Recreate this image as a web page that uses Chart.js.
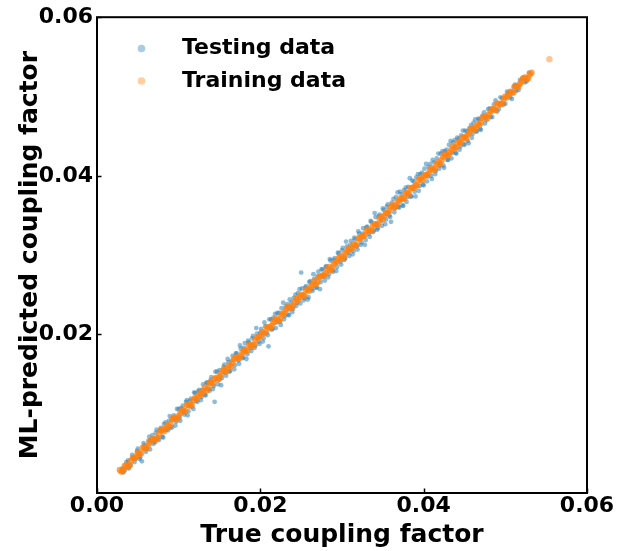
<!DOCTYPE html>
<html>
<head>
<meta charset="utf-8">
<script src="https://cdn.jsdelivr.net/npm/chart.js@4/dist/chart.umd.min.js"></script>
<style>
html,body{margin:0;padding:0;background:#fff;}
#wrap{width:617px;height:551px;position:relative;}
</style>
</head>
<body>
<div id="wrap"><canvas id="c"></canvas></div>
<script>
// ---- data ----
const xTickValues = [0.00, 0.02, 0.04, 0.06];
const yTickValues = [0.02, 0.04, 0.06];
const seriesNames = ["Testing data", "Training data"];

const testX = [
0.0031,0.0034,0.0038,0.0041,0.0044,0.0047,0.0050,0.0053,0.0055,0.0058,
0.0061,0.0064,0.0066,0.0069,0.0072,0.0074,0.0077,0.0080,0.0082,0.0085,
0.0088,0.0090,0.0093,0.0096,0.0098,0.0101,0.0103,0.0106,0.0109,0.0111,
0.0114,0.0116,0.0119,0.0121,0.0124,0.0127,0.0129,0.0132,0.0134,0.0137,
0.0139,0.0142,0.0144,0.0147,0.0150,0.0152,0.0155,0.0157,0.0160,0.0162,
0.0165,0.0168,0.0170,0.0173,0.0175,0.0178,0.0180,0.0183,0.0185,0.0188,
0.0190,0.0193,0.0195,0.0198,0.0200,0.0203,0.0205,0.0208,0.0210,0.0213,
0.0215,0.0218,0.0220,0.0223,0.0225,0.0228,0.0230,0.0233,0.0235,0.0238,
0.0240,0.0243,0.0245,0.0248,0.0250,0.0253,0.0255,0.0258,0.0260,0.0263,
0.0265,0.0268,0.0270,0.0273,0.0275,0.0278,0.0280,0.0283,0.0285,0.0288,
0.0290,0.0293,0.0295,0.0298,0.0300,0.0303,0.0305,0.0308,0.0310,0.0313,
0.0315,0.0318,0.0320,0.0323,0.0325,0.0328,0.0330,0.0333,0.0335,0.0338,
0.0340,0.0343,0.0345,0.0348,0.0350,0.0353,0.0355,0.0358,0.0360,0.0363,
0.0365,0.0368,0.0370,0.0373,0.0375,0.0378,0.0380,0.0383,0.0385,0.0388,
0.0390,0.0393,0.0395,0.0398,0.0400,0.0403,0.0405,0.0408,0.0410,0.0413,
0.0415,0.0418,0.0420,0.0423,0.0425,0.0428,0.0430,0.0433,0.0435,0.0438,
0.0440,0.0443,0.0445,0.0448,0.0450,0.0453,0.0455,0.0458,0.0460,0.0463,
0.0465,0.0468,0.0470,0.0474,0.0477,0.0481,0.0484,0.0488,0.0492,0.0496,
0.0500,0.0504,0.0508,0.0512,0.0513,0.0516,0.0521,0.0526,0.0529,
0.0032,0.0036,0.0039,0.0043,0.0046,0.0049,0.0052,0.0057,0.0060,0.0063,
0.0065,0.0068,0.0071,0.0073,0.0076,0.0078,0.0081,0.0084,0.0087,0.0089,
0.0092,0.0094,0.0097,0.0100,0.0102,0.0105,0.0107,0.0110,0.0112,0.0115,
0.0118,0.0120,0.0123,0.0125,0.0128,0.0130,0.0133,0.0135,0.0138,0.0140,
0.0143,0.0145,0.0148,0.0150,0.0153,0.0156,0.0158,0.0161,0.0163,0.0166,
0.0169,0.0171,0.0174,0.0176,0.0179,0.0181,0.0184,0.0186,0.0189,0.0191,
0.0194,0.0196,0.0199,0.0201,0.0204,0.0206,0.0209,0.0211,0.0214,0.0216,
0.0219,0.0221,0.0224,0.0226,0.0229,0.0231,0.0234,0.0236,0.0239,0.0241,
0.0244,0.0246,0.0249,0.0251,0.0254,0.0256,0.0259,0.0261,0.0264,0.0266,
0.0269,0.0271,0.0274,0.0276,0.0279,0.0281,0.0284,0.0286,0.0289,0.0291,
0.0294,0.0296,0.0299,0.0301,0.0304,0.0306,0.0309,0.0311,0.0314,0.0316,
0.0319,0.0321,0.0324,0.0326,0.0329,0.0331,0.0334,0.0336,0.0339,0.0341,
0.0344,0.0346,0.0349,0.0351,0.0354,0.0356,0.0359,0.0361,0.0364,0.0366,
0.0369,0.0371,0.0374,0.0376,0.0379,0.0381,0.0384,0.0386,0.0389,0.0391,
0.0394,0.0396,0.0399,0.0401,0.0404,0.0406,0.0409,0.0411,0.0414,0.0416,
0.0419,0.0421,0.0424,0.0426,0.0429,0.0431,0.0434,0.0436,0.0439,0.0441,
0.0444,0.0446,0.0449,0.0451,0.0454,0.0456,0.0459,0.0461,0.0464,0.0467,
0.0469,0.0472,0.0475,0.0479,0.0482,0.0486,0.0490,0.0494,0.0498,0.0502,
0.0506,0.0510,0.0518,0.0524
];
const testY = [
0.0031,0.0029,0.0041,0.0035,0.0045,0.0043,0.0056,0.0045,0.0040,0.0060,
0.0056,0.0071,0.0066,0.0062,0.0076,0.0070,0.0079,0.0071,0.0087,0.0080,
0.0091,0.0082,0.0094,0.0085,0.0106,0.0095,0.0107,0.0102,0.0115,0.0098,
0.0116,0.0109,0.0127,0.0116,0.0128,0.0117,0.0130,0.0124,0.0139,0.0131,
0.0142,0.0131,0.0115,0.0153,0.0143,0.0136,0.0159,0.0152,0.0169,0.0153,
0.0167,0.0156,0.0176,0.0167,0.0186,0.0170,0.0183,0.0169,0.0192,0.0183,
0.0195,0.0183,0.0208,0.0191,0.0202,0.0191,0.0215,0.0202,0.0185,0.0219,
0.0207,0.0226,0.0215,0.0227,0.0212,0.0240,0.0223,0.0238,0.0224,0.0240,
0.0232,0.0250,0.0240,0.0257,0.0278,0.0243,0.0259,0.0244,0.0266,0.0257,
0.0276,0.0259,0.0273,0.0257,0.0282,0.0273,0.0285,0.0272,0.0295,0.0281,
0.0294,0.0280,0.0303,0.0292,0.0306,0.0294,0.0317,0.0303,0.0313,0.0301,
0.0322,0.0311,0.0330,0.0313,0.0327,0.0313,0.0335,0.0327,0.0343,0.0329,
0.0353,0.0332,0.0349,0.0343,0.0359,0.0339,0.0361,0.0350,0.0342,0.0371,
0.0359,0.0379,0.0360,0.0377,0.0362,0.0385,0.0373,0.0397,0.0374,0.0393,
0.0374,0.0402,0.0387,0.0404,0.0388,0.0415,0.0399,0.0415,0.0396,0.0417,
0.0406,0.0428,0.0413,0.0431,0.0410,0.0433,0.0420,0.0444,0.0429,0.0445,
0.0428,0.0447,0.0437,0.0457,0.0439,0.0456,0.0441,0.0464,0.0453,0.0471,
0.0456,0.0471,0.0458,0.0480,0.0470,0.0485,0.0474,0.0495,0.0484,0.0498,
0.0491,0.0505,0.0497,0.0515,0.0507,0.0508,0.0523,0.0519,0.0530,
0.0026,0.0039,0.0031,0.0048,0.0039,0.0053,0.0043,0.0063,0.0052,0.0066,
0.0055,0.0073,0.0064,0.0080,0.0067,0.0082,0.0070,0.0089,0.0079,0.0097,
0.0083,0.0098,0.0090,0.0106,0.0091,0.0110,0.0099,0.0117,0.0103,0.0119,
0.0106,0.0126,0.0115,0.0130,0.0121,0.0137,0.0123,0.0139,0.0129,0.0146,
0.0135,0.0153,0.0137,0.0155,0.0145,0.0162,0.0148,0.0165,0.0154,0.0173,
0.0161,0.0176,0.0163,0.0182,0.0171,0.0189,0.0175,0.0190,0.0179,0.0198,
0.0186,0.0201,0.0188,0.0207,0.0195,0.0210,0.0199,0.0219,0.0206,0.0221,
0.0208,0.0227,0.0216,0.0233,0.0219,0.0235,0.0225,0.0244,0.0228,0.0246,
0.0236,0.0252,0.0239,0.0258,0.0246,0.0261,0.0247,0.0267,0.0255,0.0270,
0.0259,0.0279,0.0266,0.0282,0.0268,0.0286,0.0276,0.0293,0.0279,0.0296,
0.0285,0.0302,0.0288,0.0309,0.0296,0.0311,0.0299,0.0318,0.0305,0.0320,
0.0307,0.0327,0.0316,0.0334,0.0319,0.0336,0.0323,0.0342,0.0331,0.0348,
0.0334,0.0351,0.0337,0.0357,0.0345,0.0364,0.0348,0.0366,0.0354,0.0373,
0.0361,0.0380,0.0363,0.0382,0.0367,0.0386,0.0374,0.0394,0.0380,0.0398,
0.0381,0.0402,0.0389,0.0409,0.0393,0.0411,0.0400,0.0420,0.0402,0.0422,
0.0409,0.0428,0.0413,0.0431,0.0420,0.0439,0.0422,0.0442,0.0429,0.0448,
0.0433,0.0451,0.0440,0.0457,0.0444,0.0460,0.0448,0.0467,0.0456,0.0472,
0.0459,0.0476,0.0466,0.0484,0.0474,0.0490,0.0481,0.0499,0.0490,0.0506,
0.0499,0.0512,0.0521,0.0518
];

const trainX = [
0.0028,0.0032,0.0036,0.0040,0.0044,0.0048,0.0052,0.0056,0.0060,0.0064,
0.0068,0.0072,0.0076,0.0080,0.0084,0.0088,0.0092,0.0096,0.0100,0.0104,
0.0108,0.0112,0.0116,0.0120,0.0124,0.0128,0.0132,0.0136,0.0140,0.0144,
0.0148,0.0152,0.0156,0.0160,0.0164,0.0168,0.0172,0.0176,0.0180,0.0184,
0.0188,0.0192,0.0196,0.0200,0.0204,0.0208,0.0212,0.0216,0.0220,0.0224,
0.0228,0.0232,0.0236,0.0240,0.0244,0.0248,0.0252,0.0256,0.0260,0.0264,
0.0268,0.0272,0.0276,0.0280,0.0284,0.0288,0.0292,0.0296,0.0300,0.0304,
0.0308,0.0312,0.0316,0.0320,0.0324,0.0328,0.0332,0.0336,0.0340,0.0344,
0.0348,0.0352,0.0356,0.0360,0.0364,0.0368,0.0372,0.0376,0.0380,0.0384,
0.0388,0.0392,0.0396,0.0400,0.0404,0.0408,0.0412,0.0416,0.0420,0.0424,
0.0428,0.0432,0.0436,0.0440,0.0444,0.0448,0.0452,0.0456,0.0460,0.0464,
0.0468,0.0472,0.0476,0.0480,0.0484,0.0488,0.0492,0.0496,0.0500,0.0504,
0.0508,0.0512,0.0516,0.0520,0.0524,0.0528,0.0532,0.0554,
0.0030,0.0034,0.0038,0.0042,0.0046,0.0050,0.0054,0.0058,0.0062,0.0066,
0.0070,0.0074,0.0078,0.0082,0.0086,0.0090,0.0094,0.0098,0.0102,0.0106,
0.0110,0.0114,0.0118,0.0122,0.0126,0.0130,0.0134,0.0138,0.0142,0.0146,
0.0150,0.0154,0.0158,0.0162,0.0166,0.0170,0.0174,0.0178,0.0182,0.0186,
0.0190,0.0194,0.0198,0.0202,0.0206,0.0210,0.0214,0.0218,0.0222,0.0226,
0.0230,0.0234,0.0238,0.0242,0.0246,0.0250,0.0254,0.0258,0.0262,0.0266,
0.0270,0.0274,0.0278,0.0282,0.0286,0.0290,0.0294,0.0298,0.0302,0.0306,
0.0310,0.0314,0.0318,0.0322,0.0326,0.0330,0.0334,0.0338,0.0342,0.0346,
0.0350,0.0354,0.0358,0.0362,0.0366,0.0370,0.0374,0.0378,0.0382,0.0386,
0.0390,0.0394,0.0398,0.0402,0.0406,0.0410,0.0414,0.0418,0.0422,0.0426,
0.0430,0.0434,0.0438,0.0442,0.0446,0.0450,0.0454,0.0458,0.0462,0.0466,
0.0470,0.0474,0.0478,0.0482,0.0486,0.0490,0.0494,0.0498,0.0502,0.0506,
0.0510,0.0514,0.0518,0.0522,0.0526,0.0530
];
const trainY = [
0.0029,0.0028,0.0035,0.0035,0.0044,0.0046,0.0049,0.0057,0.0056,0.0063,
0.0068,0.0067,0.0074,0.0080,0.0081,0.0084,0.0093,0.0095,0.0097,0.0104,
0.0103,0.0111,0.0111,0.0120,0.0122,0.0125,0.0133,0.0132,0.0139,0.0144,
0.0143,0.0150,0.0156,0.0157,0.0160,0.0169,0.0171,0.0173,0.0180,0.0179,
0.0187,0.0187,0.0196,0.0198,0.0201,0.0209,0.0208,0.0215,0.0220,0.0219,
0.0226,0.0232,0.0233,0.0236,0.0245,0.0247,0.0249,0.0256,0.0255,0.0263,
0.0263,0.0272,0.0274,0.0277,0.0285,0.0284,0.0291,0.0296,0.0295,0.0302,
0.0308,0.0309,0.0312,0.0321,0.0323,0.0325,0.0332,0.0331,0.0339,0.0339,
0.0348,0.0350,0.0353,0.0361,0.0360,0.0367,0.0372,0.0371,0.0378,0.0384,
0.0385,0.0388,0.0397,0.0399,0.0401,0.0408,0.0407,0.0415,0.0415,0.0424,
0.0426,0.0429,0.0437,0.0436,0.0443,0.0448,0.0447,0.0454,0.0460,0.0461,
0.0464,0.0473,0.0475,0.0477,0.0484,0.0483,0.0491,0.0491,0.0500,0.0502,
0.0505,0.0513,0.0512,0.0519,0.0524,0.0523,0.0530,0.0547,
0.0027,0.0034,0.0033,0.0041,0.0044,0.0051,0.0050,0.0057,0.0059,0.0066,
0.0068,0.0069,0.0079,0.0078,0.0085,0.0087,0.0094,0.0093,0.0101,0.0104,
0.0111,0.0110,0.0117,0.0119,0.0126,0.0128,0.0129,0.0139,0.0138,0.0145,
0.0147,0.0154,0.0153,0.0161,0.0164,0.0171,0.0170,0.0177,0.0179,0.0186,
0.0185,0.0193,0.0196,0.0203,0.0202,0.0209,0.0211,0.0218,0.0217,0.0225,
0.0228,0.0235,0.0234,0.0241,0.0243,0.0250,0.0249,0.0257,0.0260,0.0267,
0.0266,0.0273,0.0275,0.0282,0.0281,0.0289,0.0292,0.0299,0.0298,0.0305,
0.0307,0.0314,0.0313,0.0321,0.0324,0.0331,0.0330,0.0337,0.0339,0.0346,
0.0345,0.0353,0.0356,0.0363,0.0362,0.0369,0.0371,0.0378,0.0377,0.0385,
0.0388,0.0395,0.0394,0.0401,0.0403,0.0410,0.0409,0.0417,0.0420,0.0427,
0.0426,0.0433,0.0435,0.0442,0.0441,0.0449,0.0452,0.0459,0.0458,0.0465,
0.0467,0.0474,0.0473,0.0481,0.0484,0.0491,0.0490,0.0497,0.0499,0.0506,
0.0505,0.0513,0.0516,0.0523,0.0522,0.0528
];

// ---- styling ----
const FONT = "'DejaVu Sans', 'Liberation Sans', sans-serif";
const blue = 'rgba(31,119,180,0.5)';
const orange = 'rgba(255,127,14,0.72)';
const orangeOutlier = 'rgba(255,127,14,0.45)';
const blueLegend = 'rgba(31,119,180,0.38)';
const orangeLegend = 'rgba(255,127,14,0.38)';

const toPts = (xs, ys) => xs.map((x, i) => ({x: x, y: ys[i]}));

const framePlugin = {
  id: 'frame',
  afterDatasetsDraw(chart) {
    const {ctx, chartArea: a, scales} = chart;
    ctx.save();
    ctx.strokeStyle = '#000';
    ctx.lineWidth = 1.5;
    ctx.beginPath();
    xTickValues.forEach(v => {
      const px = Math.round(scales.x.getPixelForValue(v)) + 0.5;
      ctx.moveTo(px, a.bottom); ctx.lineTo(px, a.bottom - 4.5);
    });
    yTickValues.forEach(v => {
      const py = Math.round(scales.y.getPixelForValue(v)) + 0.5;
      ctx.moveTo(a.left, py); ctx.lineTo(a.left + 4.5, py);
    });
    ctx.stroke();
    ctx.lineWidth = 2;
    ctx.strokeRect(a.left, a.top, a.right - a.left, a.bottom - a.top);
    ctx.restore();
  },
  afterDraw(chart) {
    const {ctx} = chart;
    ctx.save();
    ctx.font = "bold 22px " + FONT;
    ctx.textBaseline = 'alphabetic';
    ctx.textAlign = 'left';
    const items = [
      {text: seriesNames[0], color: blueLegend, my: 48.5, ty: 53.5},
      {text: seriesNames[1], color: orangeLegend, my: 81, ty: 87}
    ];
    items.forEach(it => {
      ctx.fillStyle = it.color;
      ctx.beginPath();
      ctx.arc(141.5, it.my, 3.8, 0, Math.PI * 2);
      ctx.fill();
      ctx.fillStyle = '#000';
      ctx.fillText(it.text, 182, it.ty);
    });
    ctx.restore();
  }
};

new Chart(document.getElementById('c'), {
  type: 'scatter',
  data: {
    datasets: [
      {label: seriesNames[0], data: toPts(testX, testY), backgroundColor: blue,
       borderWidth: 0, pointRadius: 2.4, pointHoverRadius: 2.4, order: 2},
      {label: seriesNames[1], data: toPts(trainX, trainY),
       backgroundColor: c => (c.raw && c.raw.x > 0.054 ? orangeOutlier : orange),
       borderWidth: 0, pointRadius: 3.2, pointHoverRadius: 3.2, order: 1}
    ]
  },
  options: {
    responsive: true,
    maintainAspectRatio: false,
    animation: false,
    events: [],
    layout: {padding: {left: 0, top: 16, right: 30, bottom: 0}},
    plugins: {legend: {display: false}, tooltip: {enabled: false}},
    scales: {
      x: {
        type: 'linear', min: 0, max: 0.06,
        afterBuildTicks: s => { s.ticks = xTickValues.map(v => ({value: v})); },
        afterFit: s => { s.height = 58; },
        grid: {display: false, drawTicks: false},
        border: {display: false},
        ticks: {padding: 0, color: '#000', font: {family: FONT, size: 22, weight: 'bold'},
                maxRotation: 0, callback: v => Number(v).toFixed(2)},
        title: {display: true, text: 'True coupling factor', color: '#000',
                font: {family: FONT, size: 25, weight: 'bold'}, padding: {top: 0, bottom: 1}}
      },
      y: {
        type: 'linear', min: 0, max: 0.06,
        afterBuildTicks: s => { s.ticks = yTickValues.map(v => ({value: v})); },
        afterFit: s => { s.width = 97; },
        grid: {display: false, drawTicks: false},
        border: {display: false},
        ticks: {padding: 4, color: '#000', font: {family: FONT, size: 22, weight: 'bold'},
                callback: v => Number(v).toFixed(2)},
        title: {display: true, text: 'ML-predicted coupling factor', color: '#000',
                font: {family: FONT, size: 25, weight: 'bold'}, padding: {top: 15, bottom: 0}}
      }
    }
  },
  plugins: [framePlugin]
});
</script>
</body>
</html>
